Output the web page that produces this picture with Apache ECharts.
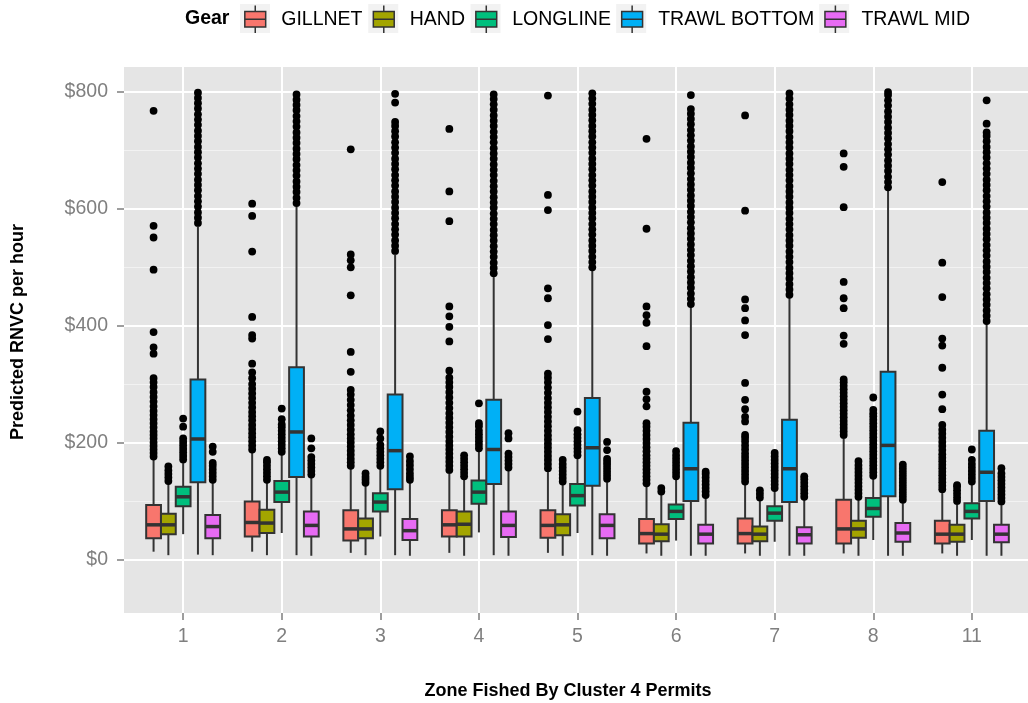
<!DOCTYPE html>
<html>
<head>
<meta charset="utf-8">
<script src="https://cdn.jsdelivr.net/npm/echarts@6/dist/echarts.min.js"></script>
<style>
html,body{margin:0;padding:0;background:#fff;}
#chart{width:1028px;height:703px;}
</style>
</head>
<body>
<div id="chart"></div>
<script>
// ---------------- data ----------------
const categories = ['1', '2', '3', '4', '5', '6', '7', '8', '11'];
const gears = ['GILLNET', 'HAND', 'LONGLINE', 'TRAWL BOTTOM', 'TRAWL MID'];
const yMajorTicks = [0, 200, 400, 600, 800];
const yMinorTicks = [100, 300, 500, 700];

// box stats per category: [lower whisker, Q1, median, Q3, upper whisker]
const gillnetBox = [
  [13, 36, 59, 93, 170], [13, 39, 63, 99, 182], [11, 32, 52, 84, 155],
  [11, 39, 59, 84, 148], [11, 37, 58, 84, 151], [10, 27, 44, 69, 125],
  [10, 27, 44, 70, 128], [10, 27, 52, 102, 208], [10, 27, 43, 66, 116]
];
const handBox = [
  [7, 43, 59, 78, 129], [7, 45, 62, 85, 131], [7, 36, 52, 70, 126],
  [6, 39, 60, 82, 137], [6, 41, 59, 77, 129], [6, 31, 43, 60, 111],
  [6, 31, 43, 56, 101], [6, 37, 52, 66, 102], [6, 30, 43, 59, 96]
];
const longlineBox = [
  [43, 91, 107, 124, 166], [45, 98, 115, 134, 179], [39, 82, 98, 113, 155],
  [46, 95, 115, 135, 186], [45, 92, 109, 129, 173], [32, 69, 82, 94, 137],
  [30, 66, 79, 91, 117], [33, 73, 87, 105, 138], [33, 70, 82, 96, 128]
];
const trawlBottomBox = [
  [8, 132, 206, 308, 570], [7, 141, 218, 329, 604], [7, 120, 186, 282, 522],
  [7, 129, 188, 273, 485], [7, 126, 191, 276, 495], [6, 100, 155, 234, 432],
  [6, 98, 155, 239, 448], [6, 108, 195, 321, 632], [6, 100, 149, 220, 403]
];
const trawlMidBox = [
  [7, 36, 56, 76, 131], [6, 39, 58, 82, 140], [6, 33, 49, 69, 131],
  [6, 38, 58, 82, 152], [6, 36, 58, 77, 133], [6, 27, 43, 59, 105],
  [6, 27, 42, 55, 102], [6, 30, 45, 62, 97], [6, 29, 43, 59, 94]
];

// outliers per category
const gillnetOut = [
  [176,182,188,194,200,207,213,219,226,233,240,247,254,262,270,278,286,295,303,310,352,363,389,496,551,571,768],
  [188,195,202,209,216,223,230,238,245,252,260,268,276,284,292,300,310,320,335,378,384,415,527,588,609],
  [160,166,172,179,186,193,200,207,214,222,230,238,246,255,264,273,282,290,321,355,452,500,512,522,702],
  [153,160,167,174,181,188,195,202,210,218,226,234,242,250,259,268,277,286,295,303,311,323,373,398,416,433,579,630,737],
  [156,163,170,177,184,191,198,205,212,220,228,236,244,252,260,268,276,285,294,303,311,318,377,401,447,464,598,624,794],
  [130,136,142,148,154,160,166,172,178,185,192,199,206,213,220,227,233,262,274,287,365,405,418,433,566,720],
  [133,139,145,151,157,163,169,175,181,188,195,202,208,213,236,244,257,273,302,384,409,430,445,597,760],
  [213,219,225,231,237,243,249,255,261,267,273,279,285,291,297,303,308,369,383,430,447,475,603,672,695],
  [120,126,132,138,144,150,156,162,168,174,180,187,194,201,208,215,222,230,257,282,328,366,378,449,508,646]
];
const handOut = [
  [134,140,146,152,159],
  [136,142,148,154,160,166,170],
  [131,136,141,147],
  [142,148,154,160,166,172,178],
  [133,139,145,151,157,163,170],
  [116,122],
  [106,112,118],
  [107,113,119,125,131,137,143,149,155,161,168],
  [100,106,112,118,124,127]
];
const longlineOut = [
  [171,177,183,189,195,201,207,227,241],
  [184,190,196,202,208,214,220,226,231,240,258],
  [160,166,172,178,184,190,196,207,219],
  [190,196,202,208,214,220,228,233,267],
  [178,184,190,196,202,208,214,221,253],
  [142,148,154,160,166,172,178,185],
  [122,128,134,140,146,152,158,164,170,176,182],
  [143,149,155,161,167,173,179,185,191,197,203,209,215,221,227,233,239,245,250,256,277],
  [133,139,145,151,157,163,170,188]
];
const trawlBottomOut = [
  [576,585,594,604,613,622,632,641,650,660,669,678,688,697,706,716,725,734,744,753,762,772,781,790,799],
  [610,619,629,638,647,657,666,675,685,694,703,713,722,731,741,750,759,769,778,787,796],
  [528,537,546,556,565,574,584,593,602,612,621,630,640,649,658,668,677,686,696,705,714,724,733,742,749,782,797],
  [490,499,508,518,527,536,546,555,564,574,583,592,602,611,620,630,639,648,658,667,676,686,695,704,714,723,732,742,751,760,770,779,788,796],
  [500,509,518,528,537,546,556,565,574,584,593,602,612,621,630,640,649,658,668,677,686,696,705,714,724,733,742,752,761,770,780,789,798],
  [437,446,455,465,474,483,493,502,511,521,530,539,549,558,567,577,586,595,605,614,623,633,642,651,661,670,679,689,698,707,717,726,735,745,754,763,771,795],
  [453,462,471,481,490,499,509,518,527,537,546,555,565,574,583,593,602,611,621,630,639,649,658,667,677,686,695,705,714,723,733,742,751,761,770,779,789,798],
  [637,646,655,665,674,683,693,702,711,721,730,739,749,758,767,777,786,795,800],
  [408,417,426,436,445,454,464,473,482,492,501,510,520,529,538,548,557,566,576,585,594,604,613,622,632,641,650,660,669,678,688,697,706,716,725,731,746,786]
];
const trawlMidOut = [
  [136,142,148,154,160,165,184,193],
  [145,151,157,163,169,175,190,207],
  [136,141,147,154,161,168,176],
  [157,163,169,175,181,207,216],
  [138,144,150,156,162,167,172,187,201],
  [110,116,122,128,134,140,146,150],
  [107,113,119,125,131,137,142],
  [102,108,114,120,126,132,138,144,150,156,162],
  [99,105,111,117,123,129,135,141,147,156]
];

const boxStats = [gillnetBox, handBox, longlineBox, trawlBottomBox, trawlMidBox];
const outliers = [gillnetOut, handOut, longlineOut, trawlBottomOut, trawlMidOut];

// ---------------- style ----------------
const gearColors = ['#F8766D', '#A3A500', '#00BF7D', '#00B0F6', '#E76BF3'];
const LINE = '#333333';
const FONT = 'Liberation Sans';
const DODGE = 0.75;       // ggplot dodge width (category units)
const POINT_R = 3.9;

const xTickValues = categories.map((c, i) => i + 1);

function makeBoxRender(k) {
  return function (params, api) {
    const x = api.value(0);
    const unit = api.size([1, 0])[0];
    const w = unit * DODGE / gears.length;
    const cx = api.coord([x, 0])[0] + (k - (gears.length - 1) / 2) * w;
    const py = d => api.coord([x, api.value(d)])[1];
    const yLow = py(1), yQ1 = py(2), yMed = py(3), yQ3 = py(4), yHigh = py(5);
    const ls = { stroke: LINE, lineWidth: 2 };
    return {
      type: 'group',
      children: [
        { type: 'line', shape: { x1: cx, y1: yHigh, x2: cx, y2: yQ3 }, style: ls },
        { type: 'line', shape: { x1: cx, y1: yQ1, x2: cx, y2: yLow }, style: ls },
        { type: 'rect', shape: { x: cx - w / 2, y: yQ3, width: w, height: yQ1 - yQ3 },
          style: { fill: gearColors[k], stroke: LINE, lineWidth: 2 } },
        { type: 'line', shape: { x1: cx - w / 2, y1: yMed, x2: cx + w / 2, y2: yMed },
          style: { stroke: LINE, lineWidth: 3.5 } }
      ]
    };
  };
}
function makeOutRender(k) {
  return function (params, api) {
    const x = api.value(0);
    const unit = api.size([1, 0])[0];
    const w = unit * DODGE / gears.length;
    const p = api.coord([x, api.value(1)]);
    return {
      type: 'circle',
      shape: { cx: p[0] + (k - (gears.length - 1) / 2) * w, cy: p[1], r: POINT_R },
      style: { fill: '#000000' }
    };
  };
}

const series = [];
gears.forEach((g, k) => {
  series.push({
    type: 'custom', name: g, xAxisIndex: 0, yAxisIndex: 0, clip: false,
    itemStyle: { color: gearColors[k], borderColor: LINE, borderWidth: 1.5 },
    encode: { x: 0, y: [1, 2, 3, 4, 5] },
    renderItem: makeBoxRender(k),
    data: boxStats[k].map((b, i) => [i + 1].concat(b)),
    z: 3
  });
});
gears.forEach((g, k) => {
  const data = [];
  outliers[k].forEach((arr, i) => arr.forEach(v => data.push([i + 1, v])));
  series.push({
    type: 'custom', name: g, xAxisIndex: 0, yAxisIndex: 0, clip: false,
    itemStyle: { color: '#000000' },
    encode: { x: 0, y: 1 },
    renderItem: makeOutRender(k),
    data: data,
    z: 4
  });
});

const legendCommon = {
  left: 240, top: 4, orient: 'horizontal', padding: 0,
  itemWidth: 30, itemHeight: 29, itemGap: 6,
  data: gears
};

const option = {
  animation: false,
  backgroundColor: '#FFFFFF',
  graphic: [
    { type: 'text', x: 185, y: 19, style: { text: 'Gear', fill: '#000', font: 'bold 19.5px "' + FONT + '"', align: 'left', verticalAlign: 'middle' } },
    { type: 'text', x: 568, y: 691, style: { text: 'Zone Fished By Cluster 4 Permits', fill: '#000', font: 'bold 18px "' + FONT + '"', align: 'center', verticalAlign: 'middle' } },
    { type: 'text', x: 18, y: 332, rotation: Math.PI / 2, style: { text: 'Predicted RNVC per hour', fill: '#000', font: 'bold 18px "' + FONT + '"', align: 'center', verticalAlign: 'middle' } }
  ],
  legend: [
    Object.assign({}, legendCommon, {
      z: 3, selectedMode: false, icon: 'rect',
      itemStyle: { color: '#F2F2F2', borderWidth: 0, borderColor: 'transparent' },
      textStyle: { color: 'rgba(0,0,0,0)', fontSize: 19.5, fontFamily: FONT, padding: [0, 0, 0, 6] }
    }),
    Object.assign({}, legendCommon, {
      z: 5,
      icon: 'path://M0,0 L0,0 M100,100 L100,100 M50,3 L50,23 M14,23 L86,23 L86,77 L14,77 Z M14,50 L86,50 M50,77 L50,97',
      itemStyle: { borderColor: LINE, borderWidth: 1.5 },
      textStyle: { color: '#000000', fontSize: 19.5, fontFamily: FONT, padding: [0, 0, 0, 6] }
    })
  ],
  grid: [{
    left: 124, top: 67, width: 907, height: 546,
    show: true, backgroundColor: '#E5E5E5', borderWidth: 0,
    containLabel: false, outerBoundsMode: 'none'
  }],
  xAxis: [{
    type: 'value', gridIndex: 0, min: 0.4, max: categories.length + 0.6,
    position: 'bottom',
    axisLine: { show: false, onZero: false },
    axisTick: { show: true, length: 7, lineStyle: { color: '#7F7F7F', width: 1.5 }, customValues: xTickValues },
    axisLabel: { customValues: xTickValues, formatter: v => categories[Math.round(v) - 1], color: '#7F7F7F', fontSize: 19.5, fontFamily: FONT, margin: 14 },
    splitLine: { show: true, lineStyle: { color: '#FFFFFF', width: 2 } }
  }],
  yAxis: [{
    type: 'value', gridIndex: 0, min: -92, max: 843,
    axisLine: { show: false, onZero: false },
    axisTick: { show: true, length: 7, lineStyle: { color: '#7F7F7F', width: 1.5 }, customValues: yMajorTicks },
    axisLabel: { customValues: yMajorTicks, formatter: v => '$' + v, color: '#7F7F7F', fontSize: 19.5, fontFamily: FONT, margin: 16 },
    splitLine: { show: true, lineStyle: { color: '#FFFFFF', width: 2 } }
  }, {
    type: 'value', gridIndex: 0, min: -92, max: 843,
    axisLine: { show: false, onZero: false },
    axisTick: { show: false, customValues: yMinorTicks },
    axisLabel: { show: false, customValues: yMinorTicks },
    splitLine: { show: true, lineStyle: { color: '#F2F2F2', width: 1 } }
  }],
  series: series
};

const chart = echarts.init(document.getElementById('chart'), null, { renderer: 'canvas' });
chart.setOption(option);
</script>
</body>
</html>
